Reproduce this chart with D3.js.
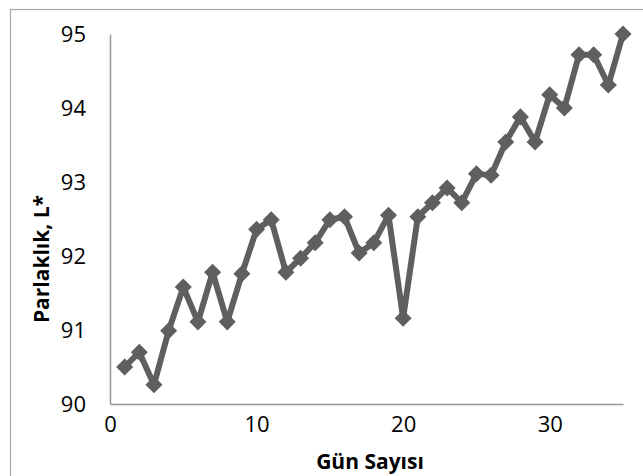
<!DOCTYPE html>
<meta charset="utf-8">
<style>
  body { margin: 0; background: #fff; }
  .tick text { font: 400 22px "Open Sans", sans-serif; fill: #000; }
  .axis-title { font: 700 21px "Open Sans", sans-serif; fill: #000; }
</style>
<body>
<div id="chart"></div>
<script src="https://d3js.org/d3.v7.min.js"></script>
<script>

// day number and lightness L*
var days = d3.range(1, 36);
var lightness = [90.50, 90.70, 90.26, 90.99, 91.58, 91.11, 91.78, 91.11, 91.76, 92.36,
                 92.49, 91.78, 91.97, 92.18, 92.49, 92.53, 92.04, 92.18, 92.55, 91.16,
                 92.53, 92.72, 92.92, 92.72, 93.11, 93.09, 93.54, 93.88, 93.54, 94.18,
                 94.00, 94.72, 94.72, 94.31, 95.00];
var xTicks = [0, 10, 20, 30];
var yTicks = [90, 91, 92, 93, 94, 95];

var width = 643, height = 476;
var margin = {top: 34, right: 20, bottom: 72, left: 110};

var svg = d3.select("#chart").append("svg")
    .attr("width", width)
    .attr("height", height);

// outer chart border (runs past the right/bottom edge)
svg.append("rect")
    .attr("x", 10.5).attr("y", 9.5)
    .attr("width", 660).attr("height", 500)
    .attr("fill", "none")
    .attr("stroke", "#a6a6a6")
    .attr("stroke-width", 1.2);

var x = d3.scaleLinear().domain([0, 35]).range([margin.left, width - margin.right]);
var y = d3.scaleLinear().domain([90, 95]).range([height - margin.bottom, margin.top]);

var data = days.map(function(d, i) { return {day: d, L: lightness[i]}; });

// axes
svg.append("g")
    .attr("transform", "translate(0," + y(90) + ")")
    .call(d3.axisBottom(x).tickValues(xTicks).tickFormat(d3.format("d")).tickSize(0).tickPadding(12));
svg.append("g")
    .attr("transform", "translate(" + x(0) + ",0)")
    .call(d3.axisLeft(y).tickValues(yTicks).tickFormat(d3.format("d")).tickSize(0).tickPadding(24));

svg.selectAll(".domain")
    .attr("stroke", "#999")
    .attr("stroke-width", 1.5);

// line
var line = d3.line()
    .x(function(d) { return x(d.day); })
    .y(function(d) { return y(d.L); });

svg.append("path")
    .datum(data)
    .attr("fill", "none")
    .attr("stroke", "#5f5f5f")
    .attr("stroke-width", 6)
    .attr("stroke-linejoin", "round")
    .attr("d", line);

// diamond markers
svg.selectAll(".pt")
    .data(data)
  .enter().append("path")
    .attr("class", "pt")
    .attr("transform", function(d) { return "translate(" + x(d.day) + "," + y(d.L) + ")"; })
    .attr("d", d3.symbol().type(d3.symbolDiamond2).size(185))
    .attr("fill", "#5f5f5f");

// titles
svg.append("text")
    .attr("class", "axis-title")
    .attr("x", 370)
    .attr("y", 469)
    .attr("text-anchor", "middle")
    .text("Gün Sayısı");

svg.append("text")
    .attr("class", "axis-title")
    .attr("transform", "translate(49,259) rotate(-90)")
    .attr("text-anchor", "middle")
    .text("Parlaklık, L*");

</script>
</body>
</html>
